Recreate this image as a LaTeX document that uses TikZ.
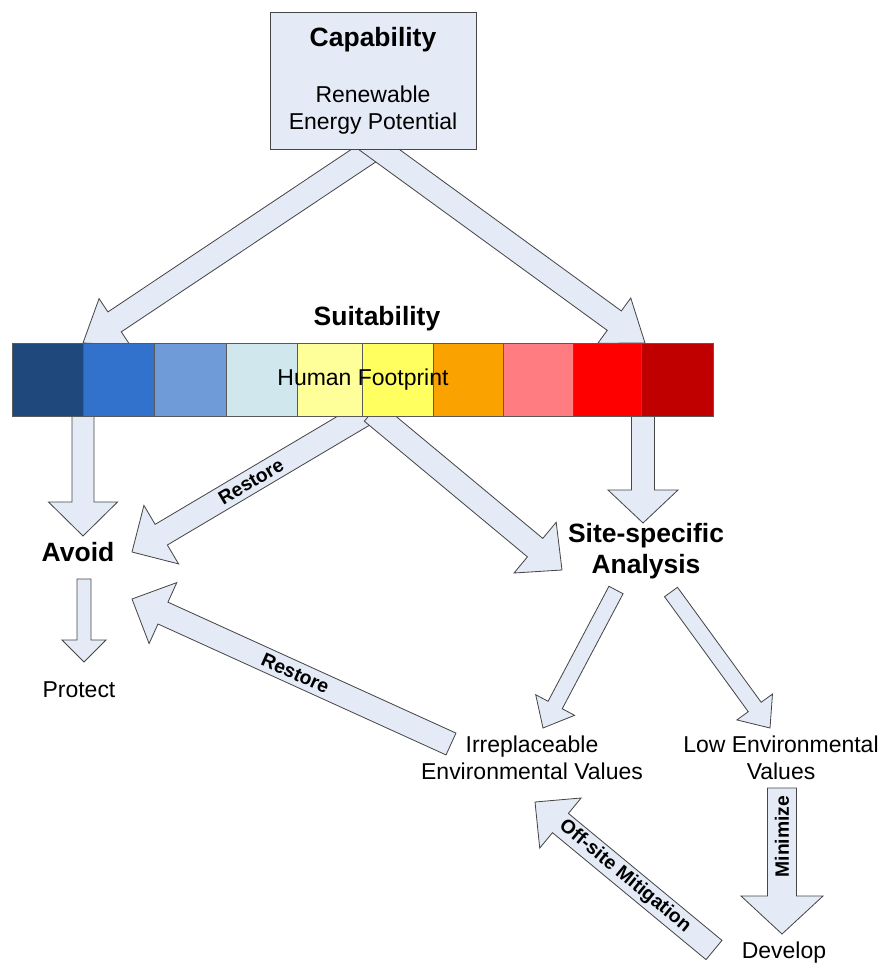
\documentclass[tikz,border=0pt]{standalone}
\usepackage{fontspec}
\setmainfont{Liberation Sans}
\usetikzlibrary{calc}
\definecolor{arrfill}{RGB}{228,234,246}
\definecolor{arrline}{RGB}{70,70,70}
\definecolor{hfa}{RGB}{31,73,125}
\definecolor{hfb}{RGB}{51,114,204}
\definecolor{hfc}{RGB}{112,155,217}
\definecolor{hfd}{RGB}{207,231,237}
\definecolor{hfe}{RGB}{255,255,153}
\definecolor{hff}{RGB}{255,255,95}
\definecolor{hfg}{RGB}{250,162,0}
\definecolor{hfh}{RGB}{255,124,128}
\definecolor{hfi}{RGB}{255,0,0}
\definecolor{hfj}{RGB}{192,0,0}
\tikzset{
  blockarr/.style={fill=arrfill,draw=arrline,line width=0.7pt,line join=miter},
  capbox/.style={draw=arrline,fill=arrfill,line width=0.8pt,inner sep=0pt,
    minimum width=6.18cm,minimum height=4.11cm},
  title/.style={font=\fontsize{22.6}{27}\selectfont\bfseries,align=center},
  plain/.style={font=\fontsize{19.6}{23}\selectfont,align=center},
  arrlabel/.style={font=\fontsize{16.5}{19}\selectfont\bfseries,inner sep=0pt},
  cell/.style={draw=black!65,line width=0.6pt}
}
\def\labelpos{0.42}
% block arrow: [label]{tail}{tip}{shaft}{head width}{head length}, sizes in px
\newcommand{\blockarrow}[6][]{%
  \coordinate (ba-n) at ($(#3)!#6*0.03cm!(#2)$);
  \draw[blockarr] ($(#2)!#4*0.015cm!90:(#3)$) -- ($(ba-n)!#4*0.015cm!90:(#3)$)
    -- ($(ba-n)!#5*0.015cm!90:(#3)$) -- (#3)
    -- ($(ba-n)!#5*0.015cm!-90:(#3)$) -- ($(ba-n)!#4*0.015cm!-90:(#3)$)
    -- ($(#2)!#4*0.015cm!-90:(#3)$) -- cycle;
  \if\relax\detokenize{#1}\relax\else
    \path (ba-n) -- (#2) node[pos=\labelpos,sloped,arrlabel] {#1};
  \fi
}

\begin{document}
\begin{tikzpicture}[x=0.03cm,y=-0.03cm]
  \useasboundingbox (0,0) rectangle (883,965);
  % arrow ends
  \coordinate (capL) at (387,140);  \coordinate (barL) at (83,343);
  \coordinate (capR) at (366,140);  \coordinate (barR) at (645,343);
  \coordinate (hfL) at (83,405);    \coordinate (avoidN) at (83,536);
  \coordinate (hfR) at (643,405);   \coordinate (siteN) at (643,523);
  \coordinate (hfM1) at (375,408);  \coordinate (avoidE) at (132,552);
  \coordinate (hfM2) at (372,412);  \coordinate (siteW) at (562,570);
  \coordinate (avoidS) at (84,579); \coordinate (protectN) at (84,662);
  \coordinate (siteSW) at (616,590); \coordinate (irrN) at (543,728);
  \coordinate (siteSE) at (671,592); \coordinate (lowN) at (770,728);
  \coordinate (irrE) at (451,744);  \coordinate (avoidSE) at (132,599);
  \coordinate (devNW) at (714,950); \coordinate (irrS) at (535,802);
  \coordinate (lowS) at (782,788);  \coordinate (devN) at (782,934);

  \blockarrow{capL}{barL}{24}{56}{38}
  \blockarrow{capR}{barR}{24}{56}{38}
  \node[capbox] (cap) at (373,80.5) {};
  \node[title] (captitle) at (373,40) {Capability};
  \node[plain] (capsub) at (373,110) {Renewable\\Energy Potential};

  \blockarrow{hfL}{avoidN}{22}{69}{34}
  \blockarrow{hfR}{siteN}{23}{70}{33}
  \blockarrow[Restore]{hfM1}{avoidE}{24}{68}{34}
  \blockarrow{hfM2}{siteW}{24}{66}{35}
  \foreach \l/\r/\c in {12/83/hfa,83/154/hfb,154/226/hfc,226/297/hfd,297/362/hfe,
      362/433/hff,433/503/hfg,503/573/hfh,573/641/hfi,641/713/hfj}
    \draw[cell,fill=\c] (\l,343) rectangle (\r,416);
  \node[title] (suit) at (377,319) {Suitability};
  \node[plain] (hf) at (363,380) {Human Footprint};

  \node[title] (avoid) at (78,552) {Avoid};
  \node[title] (site) at (646,551) {Site-specific\\Analysis};
  \node[plain] (protect) at (79,690) {Protect};
  \node[plain] (irr) at (532,758) {Irreplaceable\\Environmental Values};
  \node[plain] (low) at (781,758) {Low Environmental\\Values};
  \node[plain] (dev) at (784,953) {Develop};

  \blockarrow{avoidS}{protectN}{14}{44}{22}
  \blockarrow{siteSW}{irrN}{16}{44}{26}
  \blockarrow{siteSE}{lowN}{16}{44}{26}
  \def\labelpos{0.46}
  \blockarrow[Restore]{irrE}{avoidSE}{24}{67}{34}
  \def\labelpos{0.42}
  \blockarrow[Off-site Mitigation]{devNW}{irrS}{25}{65}{33}
  \def\labelpos{0.55}
  \blockarrow[Minimize]{lowS}{devN}{29}{82}{38}
\end{tikzpicture}
\end{document}
